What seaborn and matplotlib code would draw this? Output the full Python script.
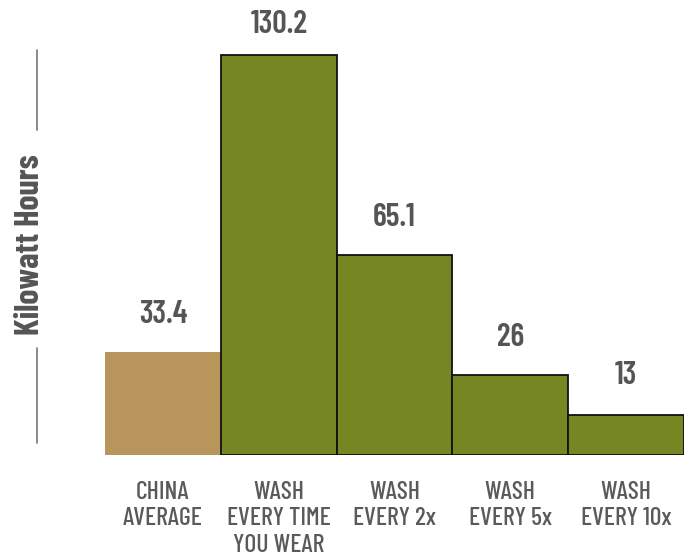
import matplotlib
matplotlib.use("Agg")
import matplotlib.pyplot as plt
import seaborn as sns
import pandas as pd
from matplotlib.lines import Line2D

categories = ["CHINA\nAVERAGE", "WASH\nEVERY TIME\nYOU WEAR", "WASH\nEVERY 2x", "WASH\nEVERY 5x", "WASH\nEVERY 10x"]
values = [33.4, 130.2, 65.1, 26, 13]
value_labels = ["33.4", "130.2", "65.1", "26", "13"]
colors = ["#B8955A", "#768622", "#768622", "#768622", "#768622"]

sns.set_theme(style="white")
plt.rcParams['font.family'] = ['Barlow Condensed', 'DejaVu Sans']

df = pd.DataFrame({"cat": categories, "val": values})
fig = plt.figure(figsize=(6.85, 5.56), dpi=100)
ax = fig.add_axes([105/685, 1-455/556, 579/685, 445/556])
sns.barplot(data=df, x="cat", y="val", hue="cat", palette=colors, width=1.0,
            legend=False, ax=ax, saturation=1)
for i, p in enumerate(ax.patches):
    if i == 0:
        p.set_edgecolor("none")
    else:
        p.set_edgecolor("#111111")
        p.set_linewidth(1.3)
ax.set_xlim(-0.5, 4.5)
ax.set_ylim(0, 145)
for s in ax.spines.values():
    s.set_visible(False)
ax.set_yticks([])
ax.set_xlabel("")
ax.set_ylabel("")
ax.tick_params(axis="x", length=0, pad=19, labelsize=18.5, labelcolor="#5a5a5a")
for lab in ax.get_xticklabels():
    lab.set_linespacing(1.17)
    lab.set_verticalalignment("top")
    lab.set_fontweight(500)

offsets = [17, 12, 17, 17, 18]
for i, (v, t) in enumerate(zip(values, value_labels)):
    ax.annotate(t, (i, v), xytext=(0, offsets[i]), textcoords="offset points",
                ha="center", va="bottom", fontsize=23, fontweight=600, color="#555555")

fig.text(30/685, 1-245/556, "Kilowatt Hours", rotation=90, ha="center", va="center",
         fontsize=24.5, fontweight=700, color="#555555")
fig.add_artist(Line2D([37/685, 37/685], [1-50/556, 1-130/556], color="#777777", lw=1.2))
fig.add_artist(Line2D([37/685, 37/685], [1-348/556, 1-443/556], color="#777777", lw=1.2))

fig.savefig("out.png", dpi=100, facecolor="white")
